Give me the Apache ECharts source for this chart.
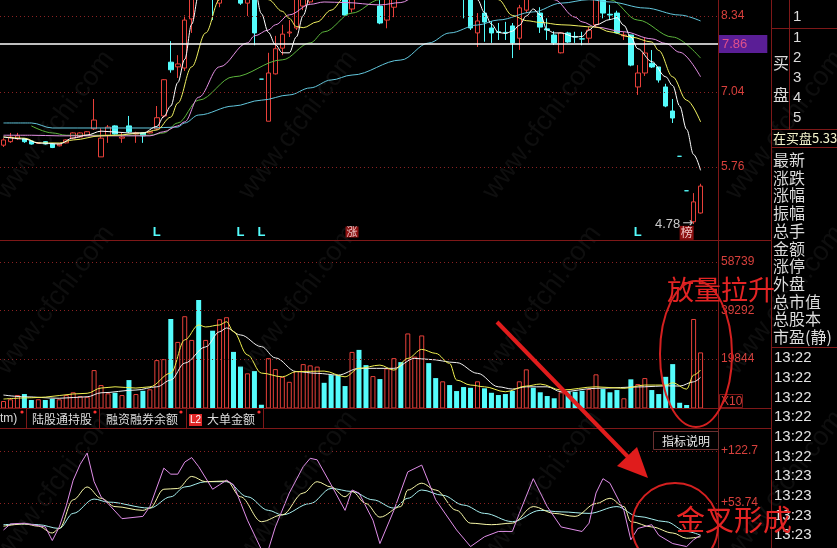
<!DOCTYPE html>
<html><head><meta charset="utf-8">
<script src="https://cdn.jsdelivr.net/npm/echarts/dist/echarts.min.js"></script>
<style>html,body{margin:0;padding:0;background:#000;}#c{width:837px;height:548px;}</style>
</head><body><div id="c"></div>
<script>
// [open, close, low, high]
const candles = [
[6.13,6.22,6.10,6.25],[6.19,6.27,6.17,6.34],[6.24,6.29,6.22,6.34],[6.24,6.19,6.17,6.25],[6.20,6.15,6.14,6.21],
[6.16,6.175,6.15,6.18],[6.19,6.15,6.14,6.20],[6.15,6.09,6.08,6.16],[6.12,6.15,6.11,6.16],[6.17,6.22,6.16,6.23],
[6.25,6.34,6.24,6.35],[6.27,6.34,6.26,6.35],[6.30,6.36,6.29,6.37],[6.41,6.56,6.39,6.92],[5.93,6.25,5.93,6.42],
[6.30,6.44,6.17,6.475],[6.46,6.32,6.31,6.47],[6.25,6.27,6.17,6.34],[6.46,6.36,6.34,6.63],[6.32,6.34,6.17,6.36],
[6.34,6.29,6.17,6.35],[6.34,6.36,6.33,6.37],[6.41,6.60,6.39,6.80],[6.63,7.25,6.60,7.26],[7.55,7.42,7.37,7.91],
[7.47,7.52,7.28,7.67],[7.45,8.27,7.40,8.35],[8.29,9.10,8.05,9.10],[9.60,9.20,9.00,9.90],[9.20,9.70,9.10,9.85],
[9.70,9.00,8.27,9.80],[8.56,9.20,8.49,9.40],[9.20,9.50,9.00,9.70],[9.50,9.10,8.90,9.60],[9.10,8.56,8.53,9.20],
[8.56,8.95,8.34,9.10],[8.90,8.05,7.84,8.95],[7.26,7.26,7.26,7.26],[6.54,7.365,6.54,7.71],[7.35,7.78,7.34,8.00],
[7.79,8.03,7.67,8.19],[8.05,8.066,7.98,8.27],[8.135,8.85,8.10,8.87],[8.51,9.10,8.44,9.20],[8.58,9.20,8.55,9.30],
[9.20,9.45,9.00,9.60],[9.45,9.20,9.10,9.55],[9.20,9.00,8.90,9.30],[9.00,8.90,8.80,9.10],[8.90,8.357,8.35,8.95],
[8.46,9.00,8.40,9.10],[9.00,8.80,8.75,9.10],[8.80,8.70,8.65,8.90],[8.70,8.85,8.68,8.95],[8.51,8.22,8.20,8.62],
[8.27,8.80,8.13,8.90],[8.49,8.90,8.32,9.00],[8.90,8.75,8.70,9.00],[8.75,9.30,8.70,9.40],[9.10,9.35,9.00,9.50],
[9.30,9.70,9.20,9.80],[9.70,9.40,9.30,9.75],[9.40,9.20,9.10,9.50],[9.10,9.25,9.00,9.35],[9.25,9.00,8.95,9.30],
[9.00,8.85,8.80,9.05],[8.85,8.70,8.30,8.90],[8.75,8.135,8.10,8.80],[8.05,8.255,7.81,8.39],[8.39,8.237,7.90,8.61],
[8.135,8.05,7.88,8.255],[8.07,8.06,7.93,8.22],[8.06,8.055,7.93,8.24],[8.17,7.88,7.62,8.22],[7.96,8.48,7.76,8.53],
[8.44,8.90,8.39,9.00],[8.90,8.65,8.62,9.00],[8.39,8.15,8.05,8.49],[8.12,8.10,7.93,8.30],[8.015,7.88,7.844,8.08],
[7.71,8.05,7.70,8.06],[8.05,7.895,7.88,8.07],[7.99,7.98,7.88,8.07],[7.95,7.945,7.84,8.07],[7.96,8.10,7.88,8.15],
[8.19,8.85,8.15,8.90],[8.85,8.39,8.30,8.90],[8.37,8.357,8.27,8.53],[8.39,8.05,8.04,8.43],[8.00,8.015,7.93,8.07],
[8.015,7.50,7.48,8.02],[7.126,7.365,6.99,7.50],[7.365,7.707,7.314,7.98],[7.53,7.468,7.451,7.758],[7.468,7.245,7.20,7.47],
[7.126,6.80,6.78,7.18],[6.715,6.595,6.51,6.92],[5.94,5.94,5.94,5.94],[5.35,5.35,5.35,5.35],[4.82,5.16,4.78,5.31],
[4.97,5.43,4.96,5.47]
];
const volumes = [
3000,3700,5400,5800,3400,3700,3400,3900,3700,5400,
6500,5000,4700,15400,9400,6100,6300,5400,11400,5800,
7100,7700,19400,19800,35900,26700,37000,27500,43500,27500,
31200,35800,36600,22700,16800,14100,15000,1500,20200,15800,
12700,10700,15000,17800,17300,16800,10300,13400,13400,9000,
22700,23500,17400,13000,11800,16100,20200,18600,30100,20800,
29300,18200,12200,10900,9400,7000,8600,8300,10900,8100,
6300,5400,5800,7100,10900,15700,8300,6500,5000,4100,
6500,6700,6700,7100,7800,13700,7800,6500,7400,4100,
11700,9800,12200,7400,5800,12700,17800,2300,1400,35900,22500
];
// price moving averages: [day index, value]
const ma5 = [[0,6.27],[3,6.236],[5,6.167],[8,6.15],[10,6.253],[12,6.304],[14,6.37],[16,6.356],[18,6.339],[20,6.339],[22,6.45],[23,6.62],[24,6.80],[25,7.2],[26,7.6],[27,8.2],[28,8.7],[30,9.1],[33,9.3],[35,9.05],[36,8.83],[37,8.38],[38,8.06],[39,7.85],[40,7.71],[41,7.71],[42,7.98],[43,8.35],[44,8.68],[47,9.15],[52,8.95],[56,8.9],[60,9.3],[64,9.2],[66,8.9],[68,8.62],[69,8.40],[70,8.20],[71,8.06],[72,8.04],[73,8.08],[74,8.18],[75,8.34],[76,8.46],[77,8.36],[78,8.10],[79,8.05],[80,8.05],[82,7.98],[83,7.99],[84,8.10],[85,8.19],[87,8.28],[88,8.31],[89,8.18],[90,7.98],[91,7.78],[93,7.56],[95,7.30],[96,7.15],[97,6.80],[98,6.40],[99,5.97],[100,5.70]];
const ma10 = [[0,6.27],[3,6.25],[5,6.17],[8,6.167],[10,6.22],[14,6.29],[16,6.30],[20,6.34],[22,6.39],[24,6.61],[25,6.85],[27,7.47],[29,8.05],[31,8.62],[33,8.9],[36,8.9],[38,8.62],[40,8.42],[41,8.30],[42,8.16],[43,8.14],[45,8.24],[47,8.44],[49,8.66],[52,8.8],[60,9.0],[68,8.95],[71,8.62],[73,8.35],[75,8.26],[77,8.23],[80,8.19],[85,8.15],[87,8.07],[90,7.98],[93,7.895],[94,7.75],[96,7.30],[98,6.90],[100,6.53]];
const ma20 = [[0,6.30],[4,6.30],[8,6.29],[21,6.29],[23,6.36],[25,6.46],[26,6.53],[28,6.95],[31,7.47],[35,7.88],[36,8.0],[38,8.10],[39,8.19],[41,8.36],[44,8.54],[46,8.58],[49,8.57],[54,8.53],[57,8.57],[59,8.66],[65,8.9],[75,8.8],[79,8.62],[82,8.32],[83,8.24],[85,8.15],[89,8.07],[93,7.95],[95,7.87],[97,7.72],[100,7.30]];
const ma30 = [[4,6.46],[7,6.34],[9,6.30],[21,6.30],[23,6.34],[25,6.51],[28,6.90],[33,7.30],[40,7.59],[44,7.88],[46,8.07],[50,8.39],[54,8.62],[58,8.8],[80,8.9],[87,8.62],[91,8.27],[96,7.98],[100,7.62]];
const ma60 = [[0,6.51],[4,6.51],[7,6.424],[21,6.424],[25,6.44],[26,6.51],[28,6.646],[33,6.80],[37,6.90],[41,6.99],[44,7.11],[47,7.245],[50,7.33],[57,7.587],[61,7.878],[64,8.05],[68,8.186],[71,8.272],[76,8.41],[80,8.56],[84,8.62],[87,8.58],[92,8.477],[97,8.357],[100,8.255]];
// volume moving averages
const volMa5 = [[0,3800],[4,4300],[12,6100],[14,8200],[16,8700],[19,8200],[21,8700],[24,14200],[26,27500],[28,33500],[29,32700],[31,33500],[32,34800],[33,30800],[35,21500],[37,14200],[40,12700],[42,14800],[46,15000],[49,12700],[51,16100],[54,17400],[56,15400],[58,20100],[60,23700],[62,22100],[64,18100],[65,11400],[67,9400],[69,8700],[72,6700],[75,9000],[77,9800],[80,7400],[85,8700],[89,8100],[92,9400],[95,9400],[96,10300],[98,7800],[99,13400],[100,15400]];
const volMa10 = [[0,5400],[3,4700],[8,4100],[12,4700],[14,6300],[19,7400],[22,8700],[24,11400],[26,18200],[29,24700],[31,30800],[32,32300],[34,29500],[37,24800],[39,20300],[42,14800],[45,14100],[48,13400],[51,16100],[56,16100],[59,20100],[61,19700],[65,18400],[68,14100],[71,8700],[73,7800],[75,8700],[78,8700],[80,6700],[85,8100],[92,8700],[95,9100],[97,9000],[99,10700],[100,12500]];
// indicator lines
const indFast = [[0,18],[1,26],[3,27],[6,22],[7,4],[8,22],[9,50],[10,84],[11,105],[12,120],[13,82],[14,62],[15,53],[17,33],[20,36],[21,49],[23,100],[24,92],[25,92],[26,108],[27,114],[28,102],[30,72],[31,78],[32,84],[33,78],[35,31],[37,-8],[38,-8],[39,22],[41,67],[43,102],[44,113],[45,111],[47,78],[49,44],[50,71],[51,67],[53,31],[54,0],[56,44],[58,95],[60,104],[62,58],[65,18],[67,-4],[69,9],[71,16],[73,16],[74,40],[76,86],[78,49],[80,22],[83,16],[84,27],[85,67],[86,86],[87,80],[89,44],[90,5],[91,20],[93,25],[94,11],[96,0],[98,-4],[99,5],[100,11]];
const indMid = [[0,23],[3,26],[5,23],[7,14],[8,20],[10,58],[12,75],[14,60],[16,49],[20,44],[21,47],[23,72],[25,73],[27,89],[29,82],[32,83],[34,62],[37,29],[40,38],[43,67],[45,82],[47,75],[49,62],[50,69],[52,53],[54,35],[57,49],[58,71],[60,80],[62,71],[65,44],[67,27],[70,25],[73,27],[76,49],[79,40],[82,36],[85,53],[87,60],[89,49],[90,29],[93,22],[96,14],[98,7],[100,9]];
const indSlow = [[0,25],[3,26],[5,25],[8,20],[10,40],[13,59],[15,55],[21,47],[24,62],[26,75],[29,82],[32,82],[35,62],[38,44],[40,38],[44,53],[47,73],[50,69],[53,58],[56,47],[58,60],[60,71],[63,64],[66,51],[69,40],[73,29],[77,44],[80,42],[84,40],[88,49],[91,36],[95,29],[98,16],[100,11]];
// axis tick labels
const priceTicks = [8.34, 7.04, 5.76];
const lastPrice = 7.86;
const volTicks = [58739, 39292, 19844];
const indTicks = [122.7, 53.74];
const lMarks = [22, 34, 37, 91];
const zhangMark = 50, bangMark = 98, lowMark = [99, 4.78];
const sideDepth = ['1','1','2','3','4','5'];
const sideLabels = ['最新','涨跌','涨幅','振幅','总手','金额','涨停','外盘','总市值','总股本','市盈(静)'];
const times = ['13:22','13:22','13:22','13:22','13:22','13:22','13:23','13:23','13:23','13:23'];
const tabs = ['tm)','陆股通持股','融资融券余额','大单金额'];

const cats = candles.map((_, i) => 'd' + i).concat(['e1','e2']);
const sign = candles.map((c, i) => c[1] > c[0] ? 1 : c[1] < c[0] ? -1 : (i > 0 && c[1] < candles[i-1][1] ? -1 : 1));
const volUp = volumes.map((v, i) => sign[i] > 0 ? v : '-');
const volDown = volumes.map((v, i) => sign[i] < 0 ? v : '-');

const RED = '#e8403a', CYAN = '#54fcfc', FRAME = '#7e1818', GRIDC = '#8a2222', LBL = '#d8403c';
const NUMF = 'Liberation Sans, Arial, sans-serif', CJK = 'Noto Sans CJK SC, sans-serif';

function gridLines(vals, fmt) {
  return vals.map(v => ({ yAxis: v, lineStyle: { color: GRIDC, type: [1, 3], width: 1 },
    label: { show: true, position: 'end', distance: 3, formatter: fmt ? fmt(v) : String(v), color: LBL, fontSize: 12, fontFamily: NUMF } }));
}
function ln(name, data, color, idx, smooth) {
  return { type: 'line', name, data, xAxisIndex: idx, yAxisIndex: idx, symbol: 'none', showSymbol: false,
    smooth: smooth ? 0.35 : false, smoothMonotone: 'x', lineStyle: { color, width: 1 }, itemStyle: { color }, silent: true, z: 3, clip: true };
}
const hidden = { show: false };
const xAx = i => ({ type: 'category', data: cats, gridIndex: i, axisLine: hidden, axisTick: hidden, axisLabel: hidden, splitLine: hidden });
const yAx = (i, min, max) => ({ type: 'value', gridIndex: i, min, max, axisLine: hidden, axisTick: hidden, axisLabel: hidden, splitLine: hidden });

const markPts = lMarks.map(i => ({ coord: [i, 4.637], label: { formatter: 'L', color: CYAN, fontSize: 13, fontWeight: 'bold', fontFamily: NUMF } }))
  .concat([
    { coord: [zhangMark, 4.645], label: { formatter: '涨', color: '#f2c8c8', fontSize: 11, fontFamily: CJK, backgroundColor: '#8c1010', padding: [0, 1] } },
    { coord: [bangMark, 4.63], label: { formatter: '榜', color: '#f2c8c8', fontSize: 12, fontFamily: CJK, backgroundColor: '#8c1010', padding: [1, 1] } },
    { coord: lowMark, label: { formatter: '{a|' + lowMark[1].toFixed(2) + '}{b|\u2192}', position: 'left', distance: 0,
        rich: { a: { color: '#c8c8c8', fontSize: 13, fontFamily: NUMF }, b: { color: '#c8c8c8', fontSize: 13, fontFamily: 'DejaVu Sans', padding: [0, 0, 0, 2] } } } }
  ]);

const g = [];
function L(x1, y1, x2, y2, stroke, w) { g.push({ type: 'line', silent: true, z: 40, shape: { x1, y1, x2, y2 }, style: { stroke: stroke || FRAME, lineWidth: w || 1 } }); }
function T(x, y, text, o) { g.push({ type: 'text', x, y, silent: true, z: 50, style: Object.assign({ text, fill: '#dcdcdc', fontSize: 14, fontFamily: CJK, align: 'left', verticalAlign: 'middle' }, o || {}) }); }

// watermark
[125, 300, 485].forEach(y => [55, 298, 542, 785].forEach(x => g.push({ type: 'text', x, y, rotation: 53 * Math.PI / 180, silent: true, z: 30,
  style: { text: 'www.cfchi.com', fill: 'rgba(110,110,110,0.13)', fontSize: 27, fontFamily: NUMF, align: 'center', verticalAlign: 'middle' } })));

// frames
L(0, 240.5, 772, 240.5); L(0, 408.5, 772, 408.5); L(0, 428.5, 772, 428.5);
L(718.5, 0, 718.5, 548); L(771.5, 0, 771.5, 548);
L(772, 28.5, 837, 28.5); L(772, 129.5, 837, 129.5); L(772, 147.5, 837, 147.5); L(772, 347.5, 837, 347.5);
L(789.5, 0, 789.5, 129.5);
// right side panel
T(793, -4, '2', { fontSize: 15, fontFamily: NUMF });
[17, 38, 58, 78, 98, 118].forEach((y, k) => T(793, y, sideDepth[k], { fontSize: 15, fontFamily: NUMF }));
T(773, 63, '买', { fontSize: 16 }); T(773, 95, '盘', { fontSize: 16 });
T(773, 138, '在买盘5.33价', { fontSize: 13, fill: '#f4f4cc' });
sideLabels.forEach((s, k) => T(773, 160 + k * 17.7, s, { fontSize: 16 }));
times.forEach((s, k) => T(774, 358 + k * 19.7, s, { fontSize: 15, fontFamily: NUMF, fill: '#e4e4e4' }));
// X10 box
g.push({ type: 'rect', silent: true, z: 40, shape: { x: 719.5, y: 394.5, width: 23, height: 13 }, style: { fill: 'none', stroke: FRAME } });
T(721, 401.5, 'X10', { fontSize: 12, fontFamily: NUMF, fill: LBL });
// tabs
[26.5, 99.5, 186.5, 263.5].forEach(x => L(x, 409, x, 428));
T(0, 419, tabs[0], { fontSize: 12, fontFamily: NUMF });
T(32, 419, tabs[1], { fontSize: 12 });
T(106, 419, tabs[2], { fontSize: 12 });
g.push({ type: 'rect', silent: true, z: 41, shape: { x: 189, y: 414, width: 13, height: 12 }, style: { fill: '#e02828' } });
T(195.5, 420, 'L2', { fontSize: 10, fontFamily: NUMF, fill: '#fff', align: 'center' });
T(207, 419, tabs[3], { fontSize: 12 });
[22, 95, 181, 259].forEach(x => g.push({ type: 'circle', silent: true, z: 42, shape: { cx: x, cy: 412, r: 1.6 }, style: { fill: '#ff3030' } }));
// indicator button
g.push({ type: 'rect', silent: true, z: 40, shape: { x: 653.5, y: 431.5, width: 65, height: 18 }, style: { fill: '#000', stroke: '#6a3030' } });
T(686, 441, '指标说明', { fontSize: 12, align: 'center', fill: '#ececec' });
// annotations
const AR = '#e01c1c';
g.push({ type: 'line', silent: true, z: 60, shape: { x1: 497, y1: 322, x2: 630, y2: 459 }, style: { stroke: AR, lineWidth: 4 } });
g.push({ type: 'polygon', silent: true, z: 60, shape: { points: [[617, 466], [637, 447], [648, 478]] }, style: { fill: AR } });
g.push({ type: 'ellipse', silent: true, z: 60, shape: { cx: 696, cy: 354, rx: 36, ry: 73 }, style: { fill: 'none', stroke: '#d42020', lineWidth: 2 } });
g.push({ type: 'circle', silent: true, z: 60, shape: { cx: 675, cy: 526, r: 43 }, style: { fill: 'none', stroke: '#d42020', lineWidth: 2 } });
T(667, 290, '放量拉升', { fontSize: 27, fill: '#e42424', fontFamily: CJK });
T(676, 520, '金叉形成', { fontSize: 29, fill: '#e42424', fontFamily: CJK });

const option = {
  backgroundColor: '#000',
  animation: false,
  grid: [
    { left: -1.5, right: 119, top: 0, height: 240 },
    { left: -1.5, right: 119, top: 240, height: 168.5 },
    { left: -1.5, right: 119, top: 428, height: 120 }
  ],
  xAxis: [xAx(0), xAx(1), xAx(2)],
  yAxis: [yAx(0, 4.508, 8.6137), yAx(1, 0, 67570), yAx(2, -5.9, 153.2)],
  series: [
    { type: 'candlestick', data: candles, xAxisIndex: 0, yAxisIndex: 0, barWidth: 5, clip: true, silent: true,
      itemStyle: { color: '#000', color0: CYAN, borderColor: RED, borderColor0: CYAN, borderWidth: 1 },
      markLine: { silent: true, symbol: ['none', 'none'], animation: false,
        data: gridLines(priceTicks).concat([{ yAxis: lastPrice, lineStyle: { color: '#ffffff', type: 'solid', width: 1.5 },
          label: { show: true, position: 'end', distance: 1, formatter: lastPrice.toFixed(2), color: '#e0508c', fontSize: 13, fontFamily: NUMF,
            backgroundColor: '#5a1e96', padding: [2, 20, 2, 3], lineHeight: 14 } }]) },
      markPoint: { silent: true, symbol: 'rect', symbolSize: 1, itemStyle: { color: 'rgba(0,0,0,0)' }, label: { show: true, position: 'inside' }, data: markPts, animation: false }
    },
    ln('MA30', ma30, '#5cb43c', 0, true),
    ln('MA60', ma60, '#62c6dc', 0, true),
    ln('MA20', ma20, '#e490e4', 0, true),
    ln('MA10', ma10, '#f0f060', 0, true),
    ln('MA5', ma5, '#ffffff', 0, true),
    { type: 'bar', data: volUp, xAxisIndex: 1, yAxisIndex: 1, barWidth: 5, barGap: '-100%', silent: true,
      itemStyle: { color: '#000', borderColor: RED, borderWidth: 1 },
      markLine: { silent: true, symbol: ['none', 'none'], animation: false, data: gridLines(volTicks) } },
    { type: 'bar', data: volDown, xAxisIndex: 1, yAxisIndex: 1, barWidth: 5, barGap: '-100%', silent: true, itemStyle: { color: CYAN } },
    ln('VMA10', volMa10, '#f0f0f0', 1, true),
    ln('VMA5', volMa5, '#f0f050', 1, true),
    Object.assign(ln('S', indSlow, '#a8f0f0', 2, true), {
      markLine: { silent: true, symbol: ['none', 'none'], animation: false, data: gridLines(indTicks, v => '+' + v) } }),
    ln('M', indMid, '#f8f8a8', 2, true),
    ln('F', indFast, '#e08ee8', 2, false)
  ],
  graphic: { elements: g }
};
const chart = echarts.init(document.getElementById('c'), null, { renderer: 'canvas' });
chart.setOption(option);
</script></body></html>
